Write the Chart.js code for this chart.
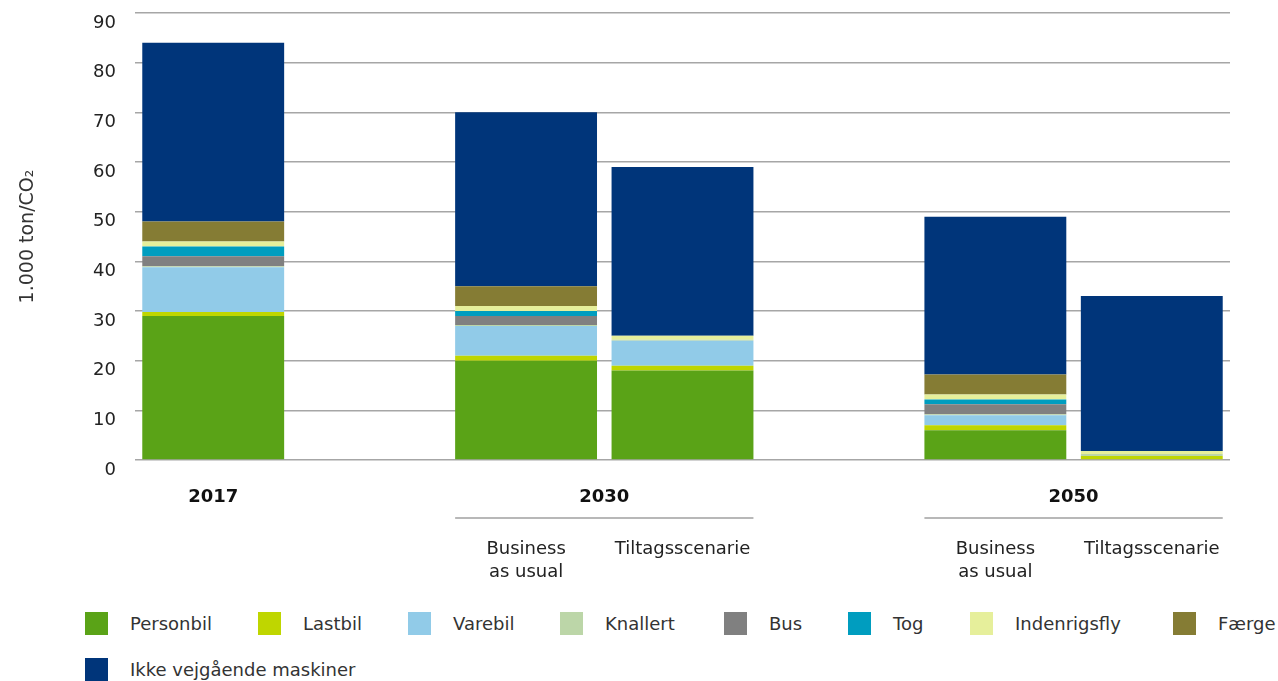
<!DOCTYPE html>
<html>
<head>
<meta charset="utf-8">
<script src="https://cdn.jsdelivr.net/npm/chart.js@4.4.0/dist/chart.umd.min.js"></script>
<style>
  body { margin: 0; background: #fff; font-family: "DejaVu Sans", Verdana, sans-serif; }
  #wrap { position: relative; width: 1278px; height: 681px; overflow: hidden; }
  #chart { position: absolute; left: 0; top: 0; }
  .leg { position: absolute; height: 23px; display: flex; align-items: center; font-size: 18px; color: #333; white-space: nowrap; }
  .leg span.box { display: inline-block; width: 23px; height: 23px; margin-right: 22px; }
</style>
</head>
<body>
<div id="wrap">
  <canvas id="chart" width="1278" height="600"></canvas>
  <div id="legend"></div>
</div>
<script>
// kategorier (tomme pladser giver mellemrum mellem årene)
const kategorier = ['', '', ['Business', 'as usual'], 'Tiltagsscenarie', '', ['Business', 'as usual'], 'Tiltagsscenarie'];
const grupper = ['2017', '2030', '2050'];

// 1.000 ton CO2 pr. transportform
const personbil    = [29,  null, 20,  18,  null, 6,    0];
const lastbil      = [0.8, null, 1,   1,   null, 1,    0.8];
const varebil      = [9,   null, 6,   5,   null, 2,    0];
const knallert     = [0.2, null, 0.2, 0.2, null, 0.2,  0.4];
const bus          = [2,   null, 1.8, 0,   null, 2,    0];
const tog          = [2,   null, 1,   0,   null, 1,    0];
const indenrigsfly = [1,   null, 1,   0.8, null, 1,    0.6];
const faerge       = [4,   null, 4,   0,   null, 4,    0];
const ikkeVej      = [36,  null, 35,  34,  null, 31.8, 31.2];

const yTicks = [0, 10, 20, 30, 40, 50, 60, 70, 80, 90];

const serier = [
  { navn: 'Personbil', data: personbil, farve: '#5aa317' },
  { navn: 'Lastbil', data: lastbil, farve: '#bfd600' },
  { navn: 'Varebil', data: varebil, farve: '#91cbe8' },
  { navn: 'Knallert', data: knallert, farve: '#bcd6a8' },
  { navn: 'Bus', data: bus, farve: '#808080' },
  { navn: 'Tog', data: tog, farve: '#009dbf' },
  { navn: 'Indenrigsfly', data: indenrigsfly, farve: '#e6ef9b' },
  { navn: 'Færge', data: faerge, farve: '#857c34' },
  { navn: 'Ikke vejgående maskiner', data: ikkeVej, farve: '#00357a' }
];

// gruppe-etiketter under aksen: hvilke pladser hører til hvilket år
const gruppePladser = [[0, 0], [2, 3], [5, 6]];

const gruppePlugin = {
  id: 'grupper',
  afterDraw(chart) {
    const ctx = chart.ctx;
    const x = chart.scales.x;
    const bar = chart.getDatasetMeta(0).data[0];
    const halv = bar.width / 2;
    ctx.save();
    gruppePladser.forEach(([fra, til], i) => {
      const x1 = x.getPixelForValue(fra);
      const x2 = x.getPixelForValue(til);
      ctx.font = 'bold 18px "DejaVu Sans"';
      ctx.fillStyle = '#111';
      ctx.textAlign = 'center';
      ctx.textBaseline = 'middle';
      ctx.fillText(grupper[i], (x1 + x2) / 2, 497);
      if (til > fra) {
        ctx.strokeStyle = '#a0a0a0';
        ctx.lineWidth = 1.5;
        ctx.beginPath();
        ctx.moveTo(x1 - halv, 518);
        ctx.lineTo(x2 + halv, 518);
        ctx.stroke();
      }
    });
    ctx.restore();
  }
};

new Chart(document.getElementById('chart'), {
  type: 'bar',
  data: {
    labels: kategorier,
    datasets: serier.map(s => ({
      label: s.navn,
      data: s.data,
      backgroundColor: s.farve,
      borderWidth: 0,
      categoryPercentage: 1,
      barPercentage: 0.907
    }))
  },
  options: {
    responsive: false,
    animation: false,
    layout: { padding: { top: 13, right: 48, left: 0, bottom: 0 } },
    plugins: { legend: { display: false }, tooltip: { enabled: false } },
    scales: {
      x: {
        stacked: true,
        grid: { display: false, drawTicks: false },
        border: { display: false },
        ticks: {
          padding: 78,
          autoSkip: false,
          maxRotation: 0,
          color: '#222',
          font: { family: 'DejaVu Sans', size: 18, lineHeight: 1.28 }
        },
        afterFit: s => { s.height = 140; s.paddingLeft = 0; s.paddingRight = 0; }
      },
      y: {
        stacked: true,
        min: 0,
        max: 90,
        afterBuildTicks: s => { s.ticks = yTicks.map(v => ({ value: v })); },
        grid: { color: '#a6a6a6', lineWidth: 1.5, drawTicks: false },
        border: { display: false },
        ticks: {
          padding: 19,
          labelOffset: 10,
          color: '#222',
          font: { family: 'DejaVu Sans', size: 18 }
        },
        title: {
          display: true,
          text: '1.000 ton/CO₂',
          color: '#333',
          padding: { top: 17, bottom: 0 },
          font: { family: 'DejaVu Sans', size: 19 }
        },
        afterFit: s => { s.width = 135; s.paddingTop = 0; s.paddingBottom = 0; }
      }
    }
  },
  plugins: [gruppePlugin]
});

// forklaring
const legPos = [[85, 612], [258, 612], [408, 612], [560, 612], [724, 612], [848, 612], [970, 612], [1173, 612], [85, 658]];
const legend = document.getElementById('legend');
serier.forEach((s, i) => {
  const d = document.createElement('div');
  d.className = 'leg';
  d.style.left = legPos[i][0] + 'px';
  d.style.top = legPos[i][1] + 'px';
  d.innerHTML = `<span class="box" style="background:${s.farve}"></span>${s.navn}`;
  legend.appendChild(d);
});
</script>
</body>
</html>
